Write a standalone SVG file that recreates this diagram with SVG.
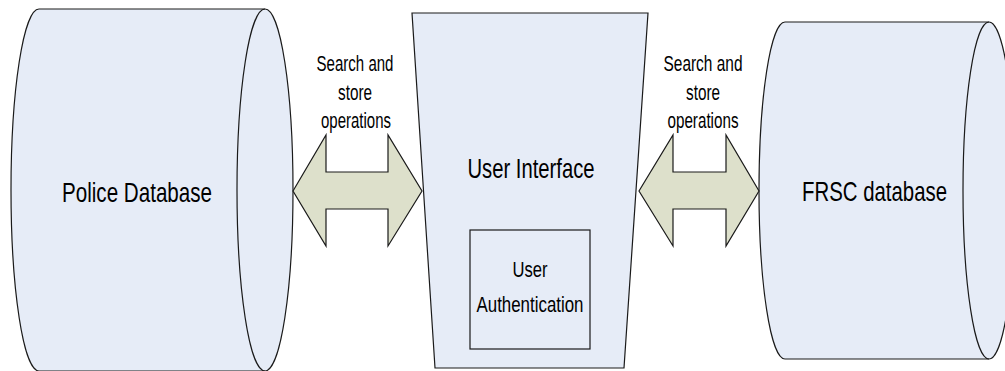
<svg xmlns="http://www.w3.org/2000/svg" width="1005" height="371" viewBox="0 0 1005 371">
<style>
.shape{fill:#e6ecf7;stroke:#1a1a1a;stroke-width:1.2}
.line{fill:none;stroke:#1a1a1a;stroke-width:1.2}
.arrow{fill:#dde0cb;stroke:#1a1a1a;stroke-width:1.2}
.big{font-family:"Liberation Sans",Arial,sans-serif;font-size:27.5px;fill:#000;text-anchor:middle}
.small{font-family:"Liberation Sans",Arial,sans-serif;font-size:22.5px;fill:#000;text-anchor:middle}
</style>
<rect width="1005" height="371" fill="#ffffff"/>
<g id="police-db">
<path class="shape" d="M39,9 L265,9 A28,181 0 0,1 265,371 L39,371 A28,181 0 0,1 39,9 Z"/>
<path class="line" d="M265,371 A28,181 0 0,1 265,9"/>
<text class="big" x="137" y="202" textLength="150" lengthAdjust="spacingAndGlyphs">Police Database</text>
</g>
<g id="user-interface">
<path class="shape" d="M412,13 L648,13 L624,368 L435,368 Z"/>
<text class="big" x="531" y="178" textLength="127" lengthAdjust="spacingAndGlyphs">User Interface</text>
</g>
<g id="user-auth">
<rect class="shape" x="470" y="230" width="120" height="119"/>
<text class="small" x="530" y="277" textLength="35" lengthAdjust="spacingAndGlyphs">User</text>
<text class="small" x="530" y="312" textLength="107" lengthAdjust="spacingAndGlyphs">Authentication</text>
</g>
<g id="frsc-db">
<path class="shape" d="M785,22 L989,22 A26,168.5 0 0,1 989,359 L785,359 A26,168.5 0 0,1 785,22 Z"/>
<path class="line" d="M989,359 A26,168.5 0 0,1 989,22"/>
<text class="big" x="874.5" y="201" textLength="145" lengthAdjust="spacingAndGlyphs">FRSC database</text>
</g>
<g id="connectors">
<g id="arrow-police-ui">
<path class="arrow" d="M293,191 L326,135 L326,172 L388,172 L388,135 L422,191 L388,246 L388,209 L326,209 L326,246 Z"/>
<text class="small" x="355" y="71" textLength="77" lengthAdjust="spacingAndGlyphs">Search and</text>
<text class="small" x="355" y="100" textLength="34" lengthAdjust="spacingAndGlyphs">store</text>
<text class="small" x="356" y="128" textLength="70" lengthAdjust="spacingAndGlyphs">operations</text>
</g>
<g id="arrow-ui-frsc">
<path class="arrow" d="M639,191 L673,135 L673,172 L726,172 L726,135 L759,191 L726,246 L726,209 L673,209 L673,246 Z"/>
<text class="small" x="703" y="71" textLength="79" lengthAdjust="spacingAndGlyphs">Search and</text>
<text class="small" x="703" y="100" textLength="34" lengthAdjust="spacingAndGlyphs">store</text>
<text class="small" x="703" y="128" textLength="71" lengthAdjust="spacingAndGlyphs">operations</text>
</g>
</g>
</svg>
